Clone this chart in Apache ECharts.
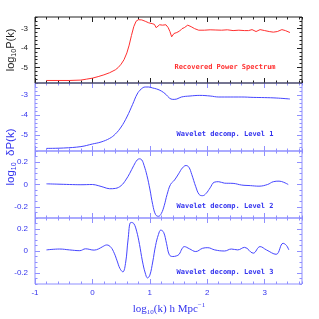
<!DOCTYPE html>
<html><head><meta charset="utf-8">
<script src="https://cdn.jsdelivr.net/npm/echarts@6/dist/echarts.min.js"></script>
<style>html,body{margin:0;padding:0;background:#fff}#c{width:319px;height:319px}</style>
</head><body><div id="c"></div>
<script>
// ---- data ----
const recX = [-0.8,-0.6,-0.4,-0.2,-0.1,0,0.1,0.2,0.3,0.4,0.45,0.5,0.55,0.6,0.64,0.68,0.72,0.76,0.8,0.86,0.92,0.98,1.04,1.08,1.11,1.14,1.17,1.22,1.28,1.32,1.35,1.38,1.42,1.47,1.52,1.56,1.6,1.66,1.72,1.78,1.85,1.95,2.05,2.15,2.25,2.35,2.45,2.55,2.65,2.72,2.78,2.85,2.88,2.92,3.0,3.08,3.15,3.22,3.3,3.36,3.44];
const recY = [-5.67,-5.67,-5.67,-5.65,-5.6,-5.55,-5.47,-5.38,-5.27,-5.12,-5.0,-4.83,-4.6,-4.25,-3.85,-3.35,-2.9,-2.62,-2.54,-2.55,-2.62,-2.7,-2.74,-2.78,-2.95,-2.88,-2.8,-2.82,-2.8,-2.95,-3.15,-3.42,-3.25,-3.2,-3.12,-3.0,-2.95,-2.82,-2.9,-3.0,-3.08,-3.08,-3.06,-3.07,-3.08,-3.06,-3.1,-3.08,-3.1,-3.1,-3.05,-3.15,-3.25,-3.05,-3.1,-3.15,-3.18,-3.15,-3.05,-3.1,-3.2];
const lv1X = [-0.8,-0.5,-0.2,0,0.15,0.3,0.4,0.5,0.6,0.7,0.78,0.85,0.92,0.98,1.05,1.12,1.2,1.28,1.34,1.4,1.47,1.55,1.7,1.87,2.05,2.2,2.4,2.6,2.8,3.0,3.2,3.44];
const lv1Y = [-5.67,-5.65,-5.58,-5.45,-5.35,-5.17,-4.95,-4.6,-4.1,-3.47,-2.95,-2.7,-2.6,-2.6,-2.65,-2.7,-2.8,-2.97,-3.15,-3.22,-3.2,-3.1,-3.05,-3.02,-3.05,-3.1,-3.1,-3.1,-3.12,-3.13,-3.15,-3.2];
const lv2X = [-0.8,-0.6,-0.4,-0.2,0,0.1,0.2,0.3,0.4,0.5,0.58,0.65,0.72,0.78,0.82,0.86,0.9,0.95,1.0,1.05,1.1,1.15,1.2,1.25,1.3,1.36,1.43,1.5,1.57,1.63,1.68,1.73,1.8,1.86,1.92,1.98,2.05,2.12,2.2,2.3,2.45,2.6,2.75,2.9,3.05,3.15,3.25,3.33,3.41];
const lv2Y = [0.006,0.003,0.0,-0.002,0.0,-0.01,-0.025,-0.038,-0.035,-0.01,0.04,0.1,0.17,0.22,0.23,0.22,0.17,0.08,-0.04,-0.18,-0.27,-0.285,-0.26,-0.19,-0.09,0.0,0.04,0.095,0.15,0.17,0.155,0.09,-0.02,-0.09,-0.1,-0.08,-0.03,0.02,0.025,0.012,0.01,-0.005,-0.01,-0.015,0.0,0.025,0.03,0.02,0.0];
const lv3X = [-0.8,-0.57,-0.4,-0.22,-0.12,0.03,0.11,0.18,0.25,0.32,0.38,0.43,0.48,0.53,0.58,0.62,0.67,0.72,0.77,0.82,0.87,0.92,0.96,1.0,1.05,1.1,1.15,1.19,1.24,1.29,1.34,1.4,1.46,1.51,1.56,1.6,1.69,1.8,1.92,2.01,2.13,2.3,2.42,2.53,2.65,2.8,2.92,3.03,3.2,3.32,3.38,3.42];
const lv3Y = [0.01,0.018,0.01,0.003,0.02,0.008,0.02,0.04,0.055,0.035,-0.02,-0.09,-0.16,-0.19,-0.1,0.1,0.26,0.25,0.18,0.06,-0.09,-0.2,-0.245,-0.22,-0.1,0.05,0.15,0.19,0.17,0.07,-0.035,-0.05,-0.045,-0.03,0.02,0.04,0.02,-0.005,0.025,0.03,0.01,0.0,0.018,0.01,0.033,-0.02,0.04,0.01,-0.03,0.07,0.05,0.01];
const xTicks = [-1,0,1,2,3];
const yTicksP = [-5,-4,-3];
const yTicksW = [-0.2,0,0.2];
const panelLabels = ['Recovered Power Spectrum','Wavelet decomp. Level 1','Wavelet decomp. Level 2','Wavelet decomp. Level 3'];

// ---- styling ----
const BLUE_FRAME = '#8f8fff', BLUE_LINE = '#4646ff', BLUE_TEXT = '#3333ee';
const BLACK = '#222', RED = '#ff3030';
const X_MIN = -1, X_MAX = 3.65;
const panels = [
  {top:17, height:66, ymin:-5.8, ymax:-2.4, step:0.2, major:yTicksP, frame:BLACK, text:BLACK, line:RED, x:recX, y:recY, smooth:false},
  {top:83, height:68, ymin:-5.8, ymax:-2.4, step:0.2, major:yTicksP, frame:BLUE_FRAME, text:BLUE_TEXT, line:BLUE_LINE, x:lv1X, y:lv1Y, smooth:0.4},
  {top:151, height:67, ymin:-0.3, ymax:0.3, step:0.05, major:yTicksW, frame:BLUE_FRAME, text:BLUE_TEXT, line:BLUE_LINE, x:lv2X, y:lv2Y, smooth:0.4},
  {top:218, height:66, ymin:-0.3, ymax:0.3, step:0.05, major:yTicksW, frame:BLUE_FRAME, text:BLUE_TEXT, line:BLUE_LINE, x:lv3X, y:lv3Y, smooth:0.4}
];
const grid=[], xAxis=[], yAxis=[], series=[];
panels.forEach((p,i)=>{
  grid.push({left:35,right:17,top:p.top,height:p.height,show:true,borderColor:p.frame,borderWidth:1,backgroundColor:'transparent',z:i===0?3:2});
  const xi = xAxis.length, yi = yAxis.length;
  ['bottom','top'].forEach(pos=>{
    xAxis.push({type:'value',gridIndex:i,min:X_MIN,max:X_MAX,position:pos,
      axisLine:{show:false,onZero:false},splitLine:{show:false},
      axisTick:{show:true,inside:true,length:5,customValues:xTicks,lineStyle:{color:p.frame}},
      axisLabel:{show:(i===3&&pos==='bottom'),customValues:xTicks,fontSize:8,color:BLUE_TEXT,margin:5,fontFamily:'Liberation Sans'}});
    xAxis.push({type:'value',gridIndex:i,min:X_MIN,max:X_MAX,interval:0.2,position:pos,
      axisLine:{show:false,onZero:false},splitLine:{show:false},
      axisTick:{show:true,inside:true,length:2.5,lineStyle:{color:p.frame}},
      axisLabel:{show:false}});
  });
  ['left','right'].forEach(pos=>{
    yAxis.push({type:'value',gridIndex:i,min:p.ymin,max:p.ymax,position:pos,
      axisLine:{show:false,onZero:false},splitLine:{show:false},
      axisTick:{show:true,inside:true,length:5,customValues:p.major,lineStyle:{color:p.frame}},
      axisLabel:{show:pos==='left',customValues:p.major,fontSize:8,color:p.text,margin:7,fontFamily:'Liberation Sans'}});
    yAxis.push({type:'value',gridIndex:i,min:p.ymin,max:p.ymax,interval:p.step,position:pos,
      axisLine:{show:false,onZero:false},splitLine:{show:false},
      axisTick:{show:true,inside:true,length:2.5,lineStyle:{color:p.frame}},
      axisLabel:{show:false}});
  });
  series.push({type:'line',xAxisIndex:xi,yAxisIndex:yi,showSymbol:false,symbol:'none',smooth:p.smooth,
    lineStyle:{color:p.line,width:1},data:p.x.map((v,k)=>[v,p.y[k]]),animation:false,silent:true,z:5});
});

const labelY = [67,134,206,272];
const graphic = panelLabels.map((t,i)=>({type:'text',x:225,y:labelY[i],
  style:{text:t,fill:i===0?RED:BLUE_TEXT,font:'bold 7px "DejaVu Sans Mono", monospace',align:'center',verticalAlign:'middle'}}));
graphic.push({type:'text',x:11,y:50,rotation:Math.PI/2,
  style:{text:'{n|log}{s|10}{n|P(k)}',align:'center',verticalAlign:'middle',fill:BLACK,
    rich:{n:{fontSize:11,fontFamily:'Liberation Sans',fill:BLACK,lineHeight:14,verticalAlign:'middle'},s:{fontSize:7,fontFamily:'Liberation Sans',fill:BLACK,verticalAlign:'bottom',lineHeight:14}}}});
graphic.push({type:'text',x:11,y:157,rotation:Math.PI/2,
  style:{text:'{n|log}{s|10}{n|  δP(k)}',align:'center',verticalAlign:'middle',fill:BLUE_TEXT,
    rich:{n:{fontSize:11.5,fontFamily:'Liberation Sans',fill:BLUE_TEXT,lineHeight:14,verticalAlign:'middle'},s:{fontSize:7,fontFamily:'Liberation Sans',fill:BLUE_TEXT,verticalAlign:'bottom',lineHeight:14}}}});
graphic.push({type:'text',x:169,y:309,
  style:{text:'{n|log}{s|10}{n|(k) h Mpc}{u|−1}',align:'center',verticalAlign:'middle',fill:BLUE_TEXT,
    rich:{n:{fontSize:11,fontFamily:'Liberation Serif',fill:BLUE_TEXT,lineHeight:14,verticalAlign:'middle'},s:{fontSize:7,fontFamily:'Liberation Serif',fill:BLUE_TEXT,verticalAlign:'bottom',lineHeight:14},u:{fontSize:7,fontFamily:'Liberation Serif',fill:BLUE_TEXT,verticalAlign:'top',lineHeight:14}}}});

const chart = echarts.init(document.getElementById('c'),null,{renderer:'canvas'});
chart.setOption({animation:false,backgroundColor:'#fff',grid,xAxis,yAxis,series,graphic});
</script></body></html>
